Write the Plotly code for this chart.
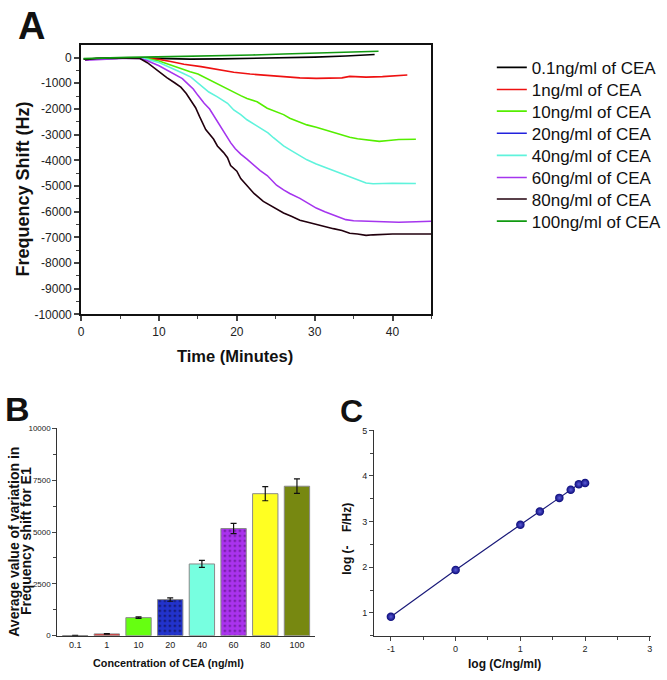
import plotly.graph_objects as go

W, H = 667, 680

# ---------------- Panel A data (Time in minutes, Frequency shift in Hz) ----------------
series_names = ["0.1ng/ml of CEA", "1ng/ml of CEA", "10ng/ml of CEA", "20ng/ml of CEA",
                "40ng/ml of CEA", "60ng/ml of CEA", "80ng/ml of CEA", "100ng/ml of CEA"]
series_colors = ["#000000", "#ee1111", "#55ee00", "#2222dd",
                 "#5ff3dc", "#a535ee", "#22000e", "#109a10"]

t_01 = [0.3, 2, 4, 6, 8, 10, 14, 18, 22, 26, 30, 34, 37.7]
v_01 = [-60, -40, -20, -10, -20, -40, -60, -50, -30, -10, 20, 60, 120]

t_1 = [0.5, 2, 4, 6, 7.5, 9, 10, 11.5, 13.2, 15.4, 17.5, 19.6, 21.7, 23.9, 26, 28.1,
       30.2, 32.4, 33.5, 34.5, 35.5, 36.6, 38.7, 40.5, 41.9]
v_1 = [-60, -40, -20, -10, -10, -30, -70, -150, -260, -350, -450, -570, -640, -700, -740,
       -790, -810, -815, -790, -730, -740, -760, -740, -700, -680]

t_10 = [0.5, 2, 4, 6, 7.5, 8.5, 10, 11.5, 12.8, 14, 15, 16.2, 17.9, 19.6, 20.5, 21.3,
        22.6, 23.9, 25.1, 26, 26.8, 28.1, 29, 30.2, 31.3, 32.4, 33.5, 34.5, 35.5, 36.6,
        37.5, 38.3, 39.5, 40.8, 43]
v_10 = [-60, -40, -20, -10, -10, -40, -130, -290, -450, -550, -640, -830, -1080, -1340,
        -1480, -1590, -1720, -1970, -2100, -2220, -2360, -2520, -2620, -2710, -2810,
        -2930, -3020, -3100, -3160, -3210, -3250, -3260, -3230, -3190, -3180]

t_20 = []
v_20 = []

t_40 = [0.5, 2, 4, 6, 7.5, 8.5, 10, 11, 12, 13, 14.1, 15.4, 16.4, 17.5, 18.8, 19.6,
        20.5, 21.3, 22.2, 23, 24, 24.7, 26, 27, 28.1, 29, 30.2, 31.3, 32.4, 33.5, 34.5,
        35.8, 36.6, 37.5, 38.7, 40, 43]
v_40 = [-60, -40, -20, -10, -20, -70, -190, -320, -450, -600, -760, -1080, -1340, -1530,
        -1780, -2040, -2220, -2420, -2590, -2740, -2930, -3120, -3440, -3620, -3820,
        -3980, -4140, -4270, -4400, -4530, -4650, -4780, -4880, -4910, -4900, -4890, -4900]

t_60 = [0.5, 2, 4, 6, 7.5, 8.5, 10, 11, 12, 13, 13.7, 14.4, 15, 15.8, 16.5, 17.1, 17.6,
        18.1, 18.7, 19.2, 19.8, 20.5, 21.3, 22.2, 23, 23.9, 24.5, 25.1, 26, 26.8, 28.1,
        29, 30.2, 31.3, 32.4, 33.2, 34, 35, 36.6, 38, 40.8, 43, 45]
v_60 = [-100, -80, -40, -20, -30, -120, -320, -480, -640, -820, -1020, -1220, -1470,
        -1780, -2000, -2290, -2550, -2800, -3080, -3310, -3550, -3760, -3950, -4200,
        -4400, -4590, -4780, -4970, -5150, -5290, -5480, -5650, -5860, -6000, -6120,
        -6230, -6310, -6350, -6370, -6390, -6410, -6390, -6370]

t_80 = [0.5, 2, 4, 6, 7.5, 8.5, 10, 11, 12, 12.8, 13.5, 14.1, 14.7, 15.2, 16, 17, 17.5,
        18.3, 18.8, 19.2, 20, 20.5, 21.3, 22.2, 23.4, 24.5, 26, 27, 28.1, 29, 30.2, 31.3,
        32.4, 33.5, 34.5, 35.5, 36.6, 37.5, 38.7, 40, 42, 45]
v_80 = [-80, -30, -10, -10, -30, -200, -560, -780, -980, -1150, -1400, -1660, -1950,
        -2290, -2800, -3170, -3440, -3700, -3900, -4200, -4420, -4710, -4980, -5290,
        -5600, -5780, -6050, -6180, -6330, -6400, -6500, -6590, -6660, -6730, -6840,
        -6870, -6920, -6900, -6880, -6870, -6870, -6870]

t_100 = [0.3, 2, 4, 6, 8, 10, 14, 18, 22, 26, 30, 34, 38.2]
v_100 = [-40, -20, 0, 10, 20, 30, 50, 70, 100, 140, 180, 220, 250]

a_xticks = [0, 10, 20, 30, 40]
a_yticks = [0, -1000, -2000, -3000, -4000, -5000, -6000, -7000, -8000, -9000, -10000]
a_yticklabels = ["0", "-1000", "-2000", "-3000", "-4000", "-5000", "-6000", "-7000",
                 "-8000", "-9000", "-10000"]

# ---------------- Panel B data ----------------
b_categories = ["0.1", "1", "10", "20", "40", "60", "80", "100"]
b_values = [8, 85, 870, 1740, 3460, 5170, 6850, 7210]
b_errors = [2, 12, 40, 80, 170, 250, 340, 350]
b_colors = ["#000000", "#ee2222", "#66ff11", "#2233cc", "#77ffe0", "#aa33ee", "#ffff22", "#778811"]
b_patterns = ["", "", "", ".", "", ".", "", ""]
b_dotcolors = ["#000000", "#000000", "#000000", "#0c0c48", "#000000", "#5a1480", "#000000", "#000000"]
b_yticks = [0, 2500, 5000, 7500, 10000]
b_yticklabels = ["0", "2500", "5000", "7500", "10000"]

# ---------------- Panel C data ----------------
c_logc = [-1, 0, 1, 1.301, 1.602, 1.778, 1.903, 2.0]
c_logf = [0.914, 1.94, 2.93, 3.22, 3.52, 3.70, 3.82, 3.846]
c_xticks = [-1, 0, 1, 2, 3]
c_xticklabels = ["-1", "0", "1", "2", "3"]
c_yticks = [1, 2, 3, 4, 5]


def px_x(p):
    return p / W


def px_y(p):
    return 1 - p / H


FONT = "Liberation Sans, Arial, sans-serif"
fig = go.Figure()

a_t = [t_01, t_1, t_10, t_20, t_40, t_60, t_80, t_100]
a_v = [v_01, v_1, v_10, v_20, v_40, v_60, v_80, v_100]
legend_ids = ["legend"] + ["legend%d" % i for i in range(2, 9)]
for name, col, tt, vv, lg in zip(series_names, series_colors, a_t, a_v, legend_ids):
    if len(tt) == 0:
        tt, vv = [None], [None]
    fig.add_trace(go.Scatter(x=tt, y=vv, mode="lines", name=name, legend=lg,
                             line=dict(color=col, width=1.6), xaxis="x", yaxis="y"))

for cat, val, err, col, pat, dot in zip(b_categories, b_values, b_errors, b_colors,
                                        b_patterns, b_dotcolors):
    mk = dict(color=col, line=dict(color="#8a8a8a", width=1))
    if pat:
        mk["pattern"] = dict(shape=pat, fgcolor=dot, bgcolor=col, size=5, solidity=0.15,
                             fillmode="replace")
    fig.add_trace(go.Bar(x=[cat], y=[val], xaxis="x2", yaxis="y2", showlegend=False,
                         width=0.8, marker=mk,
                         error_y=dict(type="data", array=[err], color="#111111",
                                      thickness=1.2, width=3)))

fig.add_trace(go.Scatter(x=c_logc, y=c_logf, mode="lines+markers", xaxis="x3", yaxis="y3",
                         showlegend=False,
                         line=dict(color="#1b1b7a", width=1.2),
                         marker=dict(size=8.5, color="#0a0a78",
                                     gradient=dict(type="radial", color="#5a5ad8"))))

axis_common = dict(showgrid=False, zeroline=False, showline=True, ticks="outside",
                   tickfont=dict(family=FONT, color="#222222"))

legend_rows = [64, 86.5, 108.5, 131, 153.5, 176, 198, 220.5]
legends = {}
for lg, row in zip(legend_ids, legend_rows):
    legends[lg] = dict(x=px_x(494), y=px_y(row), xanchor="left", yanchor="middle",
                       font=dict(family=FONT, size=17, color="#111"),
                       bgcolor="rgba(0,0,0,0)", borderwidth=0, itemwidth=30)

fig.update_layout(
    width=W, height=H, margin=dict(l=0, r=0, t=0, b=0),
    paper_bgcolor="white", plot_bgcolor="white", barmode="overlay",
    font=dict(family=FONT, color="#111111"),
    xaxis=dict(axis_common, domain=[px_x(79), px_x(433)], range=[0, 45], anchor="y",
               tickvals=a_xticks, ticklen=5, tickwidth=1.5, linewidth=2, linecolor="#111",
               mirror=True, tickfont=dict(family=FONT, size=12, color="#222"),
               minor=dict(dtick=5, tick0=0, ticklen=3, ticks="outside", tickwidth=1.2)),
    yaxis=dict(axis_common, domain=[px_y(315), px_y(41)], range=[-10000, 480], anchor="x",
               tickvals=a_yticks, ticktext=a_yticklabels, ticklen=5, tickwidth=1.5,
               linewidth=2, linecolor="#111", mirror=True,
               tickfont=dict(family=FONT, size=12, color="#222"),
               minor=dict(dtick=500, tick0=0, ticklen=3, ticks="outside", tickwidth=1.2)),
    xaxis2=dict(axis_common, domain=[px_x(55), px_x(315)], range=[-0.56, 7.56], anchor="y2",
                type="category", categoryorder="array", categoryarray=b_categories,
                ticks="", linewidth=1.2, linecolor="#333",
                tickfont=dict(family=FONT, size=9, color="#222")),
    yaxis2=dict(axis_common, domain=[px_y(642), px_y(431)], range=[0, 10000], anchor="x2",
                tickvals=b_yticks, ticktext=b_yticklabels, ticklen=4, tickwidth=1,
                linewidth=1.2, linecolor="#333",
                tickfont=dict(family=FONT, size=8, color="#222"),
                minor=dict(dtick=1250, tick0=0, ticklen=3, ticks="outside", tickwidth=1)),
    xaxis3=dict(axis_common, domain=[px_x(375), px_x(655)], range=[-1.26, 3.02], anchor="y3",
                tickvals=c_xticks, ticktext=c_xticklabels, ticklen=4, tickwidth=1,
                linewidth=1.2, linecolor="#333",
                tickfont=dict(family=FONT, size=9, color="#222"),
                minor=dict(dtick=0.5, tick0=0, ticklen=3, ticks="outside", tickwidth=1)),
    yaxis3=dict(axis_common, domain=[px_y(642), px_y(433)], range=[0.5, 5], anchor="x3",
                tickvals=c_yticks, ticklen=4, tickwidth=1, linewidth=1.2, linecolor="#333",
                tickfont=dict(family=FONT, size=9, color="#222"),
                minor=dict(dtick=0.5, tick0=0, ticklen=3, ticks="outside", tickwidth=1)),
    **legends,
)


def ann(text, x, y, size, angle=0, xanchor="center", yanchor="middle"):
    fig.add_annotation(text=text, x=px_x(x), y=px_y(y), xref="paper", yref="paper",
                       showarrow=False, textangle=angle, xanchor=xanchor, yanchor=yanchor,
                       font=dict(family=FONT, size=size, color="#111", weight="bold"))


ann("A", 13, 21, 38, xanchor="left")
ann("B", 0, 411, 34, xanchor="left")
ann("C", 339, 413, 32, xanchor="left")

ann("Frequency Shift (Hz)", 20, 187, 18, angle=-90)
ann("Time (Minutes)", 234, 357, 16.5)

ann("Average value of variation in", 11.5, 546, 14, angle=-90)
ann("Frequency shift for E1", 24, 546, 14, angle=-90)
ann("Concentration of CEA (ng/ml)", 167, 670, 10.8)

ann("log (-\u00a0\u00a0\u00a0\u00a0F/Hz)", 348, 543, 12, angle=-90)
ann("log (C/ng/ml)", 507, 671, 12)

fig.write_html("out.html", config={"displayModeBar": False},
               post_script="document.body.style.margin='0';document.body.style.overflow='hidden';")
